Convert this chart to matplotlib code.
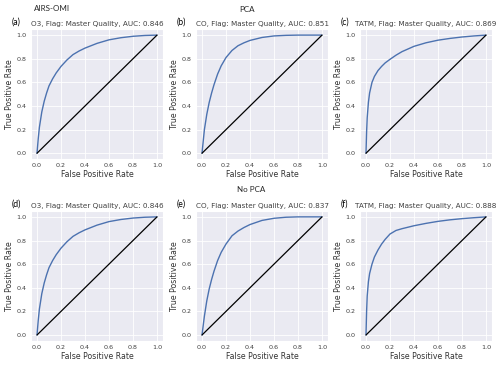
import matplotlib
matplotlib.use("Agg")
import matplotlib.pyplot as plt
import seaborn as sns

sns.set_style("darkgrid")
plt.rcParams["font.family"] = ["DejaVu Sans"]

# ROC curves (FPR, TPR)
fpr_o3 = [0.0, 0.01, 0.02, 0.04, 0.06, 0.08, 0.1, 0.13, 0.16, 0.2, 0.25, 0.3, 0.35, 0.4, 0.5, 0.6, 0.7, 0.8, 0.9, 1.0]
tpr_o3 = [0.0, 0.12, 0.22, 0.35, 0.44, 0.51, 0.57, 0.63, 0.68, 0.735, 0.79, 0.835, 0.865, 0.89, 0.93, 0.96, 0.978, 0.99, 0.997, 1.0]

fpr_co_pca = [0.0, 0.01, 0.02, 0.04, 0.06, 0.08, 0.1, 0.13, 0.16, 0.2, 0.25, 0.3, 0.35, 0.4, 0.5, 0.6, 0.7, 0.8, 1.0]
tpr_co_pca = [0.0, 0.1, 0.2, 0.33, 0.43, 0.51, 0.58, 0.67, 0.74, 0.81, 0.87, 0.91, 0.935, 0.955, 0.98, 0.993, 0.998, 1.0, 1.0]

fpr_tatm_pca = [0.0, 0.005, 0.01, 0.02, 0.03, 0.05, 0.07, 0.1, 0.13, 0.16, 0.2, 0.25, 0.3, 0.4, 0.5, 0.6, 0.7, 0.8, 0.9, 1.0]
tpr_tatm_pca = [0.0, 0.18, 0.3, 0.43, 0.51, 0.6, 0.65, 0.7, 0.735, 0.765, 0.795, 0.83, 0.86, 0.905, 0.935, 0.957, 0.972, 0.984, 0.993, 1.0]

fpr_co = [0.0, 0.01, 0.02, 0.04, 0.06, 0.08, 0.1, 0.13, 0.16, 0.2, 0.25, 0.3, 0.35, 0.4, 0.5, 0.6, 0.7, 0.8, 1.0]
tpr_co = [0.0, 0.08, 0.16, 0.29, 0.39, 0.47, 0.54, 0.63, 0.7, 0.77, 0.84, 0.88, 0.91, 0.935, 0.97, 0.988, 0.997, 1.0, 1.0]

fpr_tatm = [0.0, 0.005, 0.01, 0.02, 0.03, 0.05, 0.07, 0.1, 0.13, 0.16, 0.2, 0.25, 0.3, 0.4, 0.5, 0.6, 0.7, 0.8, 0.9, 1.0]
tpr_tatm = [0.0, 0.2, 0.33, 0.45, 0.52, 0.6, 0.66, 0.72, 0.77, 0.81, 0.855, 0.885, 0.9, 0.925, 0.945, 0.962, 0.975, 0.985, 0.993, 1.0]

curves = [(fpr_o3, tpr_o3), (fpr_co_pca, tpr_co_pca), (fpr_tatm_pca, tpr_tatm_pca),
          (fpr_o3, tpr_o3), (fpr_co, tpr_co), (fpr_tatm, tpr_tatm)]
titles = ["O3, Flag: Master Quality, AUC: 0.846",
          "CO, Flag: Master Quality, AUC: 0.851",
          "TATM, Flag: Master Quality, AUC: 0.869",
          "O3, Flag: Master Quality, AUC: 0.846",
          "CO, Flag: Master Quality, AUC: 0.837",
          "TATM, Flag: Master Quality, AUC: 0.888"]
panel_labels = ["(a)", "(b)", "(c)", "(d)", "(e)", "(f)"]
ticks = [0.0, 0.2, 0.4, 0.6, 0.8, 1.0]

fig = plt.figure(figsize=(5, 3.65), dpi=100)
lefts = [0.062, 0.392, 0.72]
bottoms = [0.564, 0.066]
w, h = 0.264, 0.356

for i, (xs, ys) in enumerate(curves):
    ax = fig.add_axes([lefts[i % 3], bottoms[i // 3], w, h])
    ax.plot(xs, ys, color="#4c72b0", lw=1)
    ax.plot([0, 1], [0, 1], color="black", lw=0.9)
    ax.set_xticks(ticks)
    ax.set_yticks(ticks)
    ax.tick_params(labelsize=4.6, pad=3, length=0, colors=".25")
    ax.set_xlabel("False Positive Rate", fontsize=5.6, labelpad=1.5, color=".2")
    ax.set_ylabel("True Positive Rate", fontsize=5.6, labelpad=2, color=".2")
    ax.set_title(titles[i], fontsize=5.2, pad=2, color=".25")
    ax.grid(lw=0.6)
    ax.text(-0.145, 1.02, panel_labels[i], transform=ax.transAxes, fontsize=6.2,
            color="black", va="bottom", ha="left", family="Lato")

fig.text(0.068, 0.985, "AIRS-OMI", fontsize=5.8, va="top", ha="left", family="Lato")
fig.text(0.493, 0.983, "PCA", fontsize=5.8, va="top", ha="center", family="Lato")
fig.text(0.502, 0.49, "No PCA", fontsize=5.8, va="top", ha="center", family="Lato")

fig.savefig("out.png", dpi=100)
